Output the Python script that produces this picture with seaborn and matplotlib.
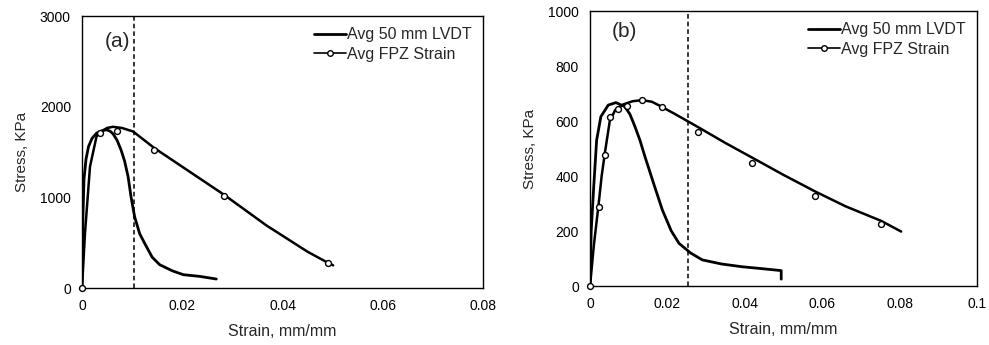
import pandas as pd
import matplotlib
matplotlib.use("Agg")
import matplotlib.pyplot as plt
from matplotlib.lines import Line2D
import seaborn as sns

sns.set_style("white")
plt.rcParams['font.family'] = ['Liberation Sans', 'DejaVu Sans']

# Panel (a): averaged curves
a_lvdt_x = [0, 0.0002, 0.0004, 0.0008, 0.0013, 0.002, 0.0029, 0.004, 0.0049, 0.0056, 0.0062, 0.007,
            0.0078, 0.0085, 0.0092, 0.0098, 0.0105, 0.0115, 0.0125, 0.014, 0.0155, 0.018,
            0.0202, 0.0235, 0.0268]
a_lvdt_y = [0, 800, 1200, 1420, 1560, 1650, 1707, 1735, 1745, 1730, 1700, 1630,
            1521, 1400, 1227, 1000, 786, 600, 493, 340, 257, 190,
            147, 128, 99]
a_fpz_x = [0, 0.0006, 0.0016, 0.0029, 0.0036, 0.005, 0.0062, 0.008, 0.0102, 0.0144,
           0.0209, 0.0283, 0.0368, 0.045, 0.049, 0.0501]
a_fpz_y = [0, 606, 1340, 1671, 1720, 1765, 1778, 1765, 1726, 1545,
           1304, 1030, 690, 400, 280, 250]
a_mark_x = [0, 0.0036, 0.0069, 0.0144, 0.0283, 0.049]
a_mark_y = [0, 1708, 1733, 1520, 1017, 275]
a_dash = 0.0104

# Panel (b)
b_lvdt_x = [0, 0.0003, 0.0009, 0.0017, 0.0028, 0.0047, 0.0067, 0.009, 0.0103, 0.0116, 0.0129,
            0.0142, 0.0165, 0.0187, 0.021, 0.023, 0.026, 0.029, 0.034, 0.0393, 0.0445,
            0.0494, 0.0494]
b_lvdt_y = [0, 200, 349, 530, 616, 658, 667, 652, 625, 580, 530,
            470, 370, 276, 200, 155, 120, 95, 80, 70, 63,
            56, 25]
b_fpz_x = [0, 0.001, 0.0022, 0.003, 0.0039, 0.0051, 0.0065, 0.0085, 0.011, 0.0135, 0.016,
           0.0185, 0.022, 0.0254, 0.0279, 0.035, 0.042, 0.05, 0.058, 0.066, 0.0752, 0.0804]
b_fpz_y = [0, 150, 295, 400, 490, 600, 640, 660, 672, 676, 670,
           652, 625, 598, 578, 520, 466, 404, 345, 290, 237, 198]
b_mark_x = [0, 0.0022, 0.0039, 0.0051, 0.0072, 0.0096, 0.0135, 0.0185, 0.0279, 0.0419, 0.0581, 0.0752]
b_mark_y = [0, 288, 476, 613, 642, 655, 676, 650, 561, 448, 328, 225]
b_dash = 0.0254

fig = plt.figure(figsize=(9.89, 3.45), dpi=100)
ax1 = fig.add_axes([0.0829, 0.1652, 0.4055, 0.7884])
ax2 = fig.add_axes([0.5966, 0.171, 0.3913, 0.797])

panels = [
    (ax1, a_lvdt_x, a_lvdt_y, a_fpz_x, a_fpz_y, a_mark_x, a_mark_y, a_dash,
     0.08, [0, 0.02, 0.04, 0.06, 0.08], ['0', '0.02', '0.04', '0.06', '0.08'],
     3000, [0, 1000, 2000, 3000], '(a)', 0.906),
    (ax2, b_lvdt_x, b_lvdt_y, b_fpz_x, b_fpz_y, b_mark_x, b_mark_y, b_dash,
     0.1, [0, 0.02, 0.04, 0.06, 0.08, 0.1], ['0', '0.02', '0.04', '0.06', '0.08', '0.1'],
     1000, [0, 200, 400, 600, 800, 1000], '(b)', 0.924),
]

for (ax, lx, ly, fx, fy, mx, my, dash, xmax, xt, xtl, ymax, yt, tag, ty) in panels:
    sns.lineplot(x=lx, y=ly, ax=ax, color='black', lw=2, sort=False, estimator=None)
    sns.lineplot(x=fx, y=fy, ax=ax, color='black', lw=1.8, sort=False, estimator=None)
    sns.scatterplot(x=mx, y=my, ax=ax, s=18, marker='o', facecolor='white',
                    edgecolor='black', linewidth=1, zorder=5, legend=False, clip_on=False)
    ax.axvline(dash, color='black', lw=1.1, ls=(0, (3, 2)))
    ax.set_xlim(0, xmax)
    ax.set_ylim(0, ymax)
    ax.set_xticks(xt)
    ax.set_xticklabels(xtl)
    ax.set_yticks(yt)
    ax.tick_params(direction='in', length=3, labelsize=10, pad=8, colors='black')
    for sp in ax.spines.values():
        sp.set_color('black')
        sp.set_linewidth(1)
    ax.set_xlabel('Strain, mm/mm', fontsize=11.5, labelpad=8)
    ax.set_ylabel('Stress, KPa', fontsize=11, labelpad=8)
    ax.text(0.057, ty, tag, transform=ax.transAxes, fontsize=15, va='center')
    handles = [
        Line2D([], [], color='black', lw=2),
        Line2D([], [], color='black', lw=1.2, marker='o', markersize=4,
               markerfacecolor='white', markeredgecolor='black'),
    ]
    ax.legend(handles, ['Avg 50 mm LVDT', 'Avg FPZ Strain'], loc='upper right',
              frameon=False, fontsize=11.5, handlelength=2.0, handletextpad=0.1,
              labelspacing=0.3, borderaxespad=0.3)

fig.savefig('out.png', dpi=100)
